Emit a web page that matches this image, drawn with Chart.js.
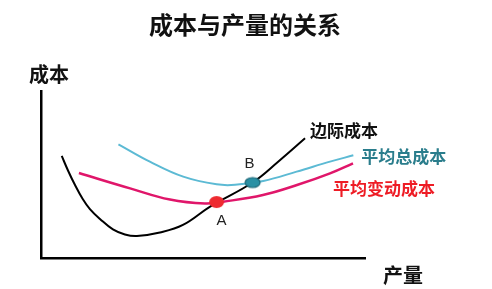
<!DOCTYPE html>
<html>
<head>
<meta charset="utf-8">
<title>成本与产量的关系</title>
<script src="https://cdn.jsdelivr.net/npm/chart.js@4/dist/chart.umd.min.js"></script>
<style>
  html, body { margin: 0; padding: 0; background: #fff; }
  #costChart { display: block; }
</style>
</head>
<body>
<canvas id="costChart" width="492" height="289"></canvas>
<script>
// Cost vs. output — marginal cost, average total cost, average variable cost.
// Values (quantity 0–10, cost 0–10).
const MC_X  = [0.64, 0.84, 1.05, 1.27, 1.51, 1.82, 2.22, 2.59, 2.96, 3.67, 4.38, 5.22, 6.53, 7.31, 8.15];
const MC_Y  = [6.11, 5.21, 4.37, 3.59, 2.93, 2.34, 1.71, 1.41, 1.32, 1.53, 1.98, 3.08, 4.52, 5.75, 7.17];

const ATC_X = [2.39, 3.36, 4.39, 5.42, 5.99, 6.86, 7.89, 8.92, 9.64];
const ATC_Y = [6.81, 5.77, 4.87, 4.41, 4.38, 4.61, 5.17, 5.77, 6.15];

const AVC_X = [1.17, 2.75, 3.98, 5.06, 5.62, 6.85, 7.90, 8.92, 9.63];
const AVC_Y = [5.09, 4.17, 3.50, 3.26, 3.37, 3.77, 4.37, 5.07, 5.67];

// A: MC meets AVC minimum, B: MC meets ATC minimum
const POINT_NAMES = ['A', 'B'];
const POINT_X = [5.42, 6.53];
const POINT_Y = [3.35, 4.52];

const SERIES_NAMES = ['边际成本', '平均总成本', '平均变动成本'];
const TITLE = '成本与产量的关系';
const Y_TITLE = '成本';
const X_TITLE = '产量';

const CJK = "'Noto Sans CJK SC', 'Noto Sans', sans-serif";

function toPoints(xs, ys) {
    return xs.map((x, i) => ({ x: x, y: ys[i] }));
}

// soft ellipse marker used for the A / B intersections
function ellipseMarker(w, h, fill, stroke) {
    const c = document.createElement('canvas');
    c.width = w + 4;
    c.height = h + 4;
    const g = c.getContext('2d');
    g.beginPath();
    g.ellipse(c.width / 2, c.height / 2, w / 2, h / 2, 0, 0, Math.PI * 2);
    g.fillStyle = fill;
    g.fill();
    if (stroke) {
        g.lineWidth = 1.2;
        g.strokeStyle = stroke;
        g.stroke();
    }
    return c;
}

const markerA = ellipseMarker(15, 12, '#ee2a30', null);
const markerB = ellipseMarker(15, 10, '#2b90a4', '#1c6676');

// text on top of the chart: title, axis names, curve names, point names
const textPlugin = {
    id: 'sketchText',
    afterDraw(chart) {
        const ctx = chart.ctx;
        const xs = chart.scales.x;
        const ys = chart.scales.y;
        ctx.save();
        ctx.textBaseline = 'middle';

        ctx.fillStyle = '#111';
        ctx.textAlign = 'center';
        ctx.font = 'bold 24px ' + CJK;
        ctx.fillText(TITLE, 245, 25);

        ctx.font = 'bold 20px ' + CJK;
        ctx.fillText(Y_TITLE, 49, 74);
        ctx.fillText(X_TITLE, 403, 275);

        // curve names, anchored to each curve's last point
        ctx.textAlign = 'left';
        ctx.font = 'bold 17px ' + CJK;
        const ends = [
            [MC_X, MC_Y, '#111', 5, -8],
            [ATC_X, ATC_Y, '#2a7d8c', 8, 1],
            [AVC_X, AVC_Y, '#ee1c25', -20, 25],
        ];
        ends.forEach(([ax, ay, color, dx, dy], i) => {
            const n = ax.length - 1;
            ctx.fillStyle = color;
            ctx.fillText(SERIES_NAMES[i], xs.getPixelForValue(ax[n]) + dx, ys.getPixelForValue(ay[n]) + dy);
        });

        // A below its marker, B above
        ctx.textAlign = 'center';
        ctx.font = '15px "Liberation Sans", Arial, sans-serif';
        ctx.fillStyle = '#222';
        const offs = [[5, 19], [-3, -19]];
        POINT_NAMES.forEach((name, i) => {
            ctx.fillText(name, xs.getPixelForValue(POINT_X[i]) + offs[i][0], ys.getPixelForValue(POINT_Y[i]) + offs[i][1]);
        });
        ctx.restore();
    },
};

const curve = (label, xs, ys, color, width) => ({
    label: label,
    data: toPoints(xs, ys),
    showLine: true,
    borderColor: color,
    borderWidth: width,
    pointRadius: 0,
    tension: 0.4,
    fill: false,
});

new Chart(document.getElementById('costChart'), {
    type: 'scatter',
    data: {
        datasets: [
            {
                label: POINT_NAMES[0],
                data: [{ x: POINT_X[0], y: POINT_Y[0] }],
                pointStyle: markerA,
            },
            {
                label: POINT_NAMES[1],
                data: [{ x: POINT_X[1], y: POINT_Y[1] }],
                pointStyle: markerB,
            },
            curve(SERIES_NAMES[0], MC_X, MC_Y, '#000', 2),
            curve(SERIES_NAMES[1], ATC_X, ATC_Y, '#5cbad4', 2),
            curve(SERIES_NAMES[2], AVC_X, AVC_Y, '#e0166a', 2.5),
        ],
    },
    options: {
        responsive: false,
        animation: false,
        layout: { padding: { left: 41, right: 127, top: 91, bottom: 31 } },
        plugins: {
            legend: { display: false },
            tooltip: { enabled: false },
            title: { display: false },
        },
        scales: {
            x: {
                type: 'linear',
                min: 0,
                max: 10,
                grid: { display: false, drawTicks: false },
                ticks: { display: false },
                border: { display: true, color: '#000', width: 2.5 },
            },
            y: {
                type: 'linear',
                min: 0,
                max: 10,
                grid: { display: false, drawTicks: false },
                ticks: { display: false },
                border: { display: true, color: '#000', width: 2.5 },
            },
        },
    },
    plugins: [textPlugin],
});
</script>
</body>
</html>
